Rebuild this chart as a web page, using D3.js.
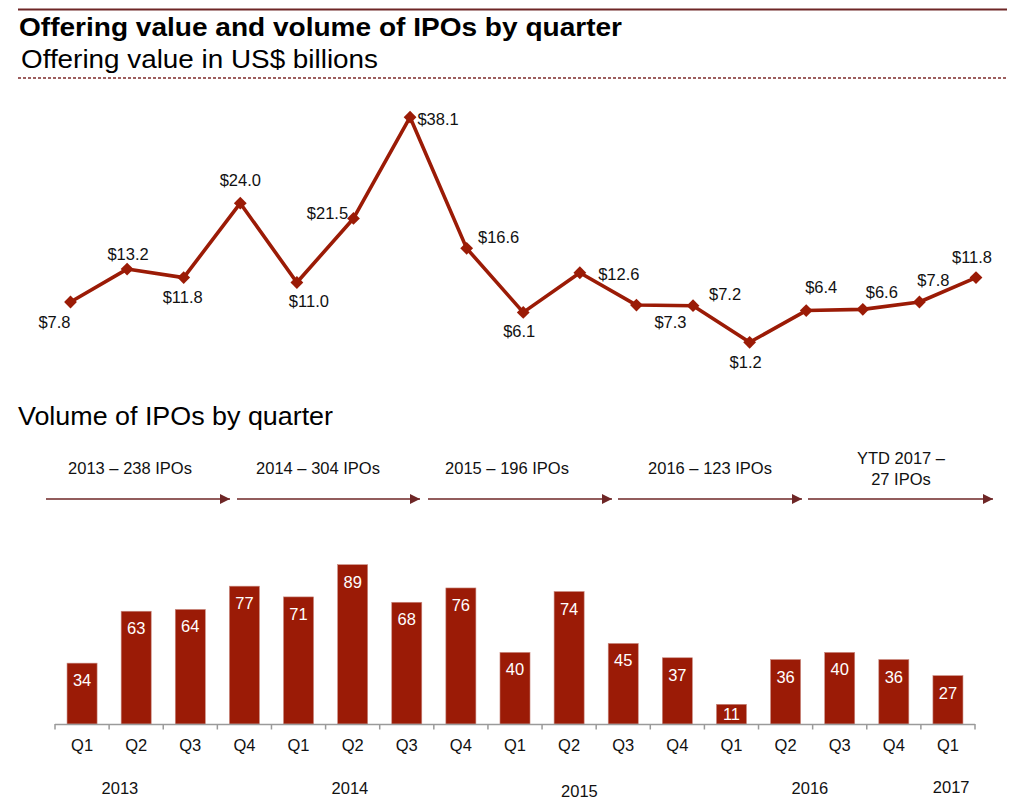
<!DOCTYPE html>
<html>
<head>
<meta charset="utf-8">
<script src="https://cdn.jsdelivr.net/npm/d3@7"></script>
<style>
  html, body { margin: 0; padding: 0; background: #fff; }
  svg { display: block; font-family: "Liberation Sans", Arial, sans-serif; }
</style>
</head>
<body>
<svg id="chart" width="1024" height="812"></svg>
<script>
// ---------- data ----------
const quarters = ["Q1","Q2","Q3","Q4","Q1","Q2","Q3","Q4","Q1","Q2","Q3","Q4","Q1","Q2","Q3","Q4","Q1"];
const offeringValue = [7.8, 13.2, 11.8, 24.0, 11.0, 21.5, 38.1, 16.6, 6.1, 12.6, 7.3, 7.2, 1.2, 6.4, 6.6, 7.8, 11.8];
const ipoVolume = [34, 63, 64, 77, 71, 89, 68, 76, 40, 74, 45, 37, 11, 36, 40, 36, 27];
const years = ["2013", "2014", "2015", "2016", "2017"];
const periodLabels = [["2013 \u2013 238 IPOs"], ["2014 \u2013 304 IPOs"], ["2015 \u2013 196 IPOs"], ["2016 \u2013 123 IPOs"], ["YTD 2017 \u2013", "27 IPOs"]];

// ---------- layout (not data) ----------
const valueLabelOffsets = [[-16,20],[1,-15],[-1,19],[0,-23],[12,18],[-26,-5],[28,2],[32,-11],[-4,19],[39,1],[34,17],[32,-12],[-4,20],[15,-24],[19,-17],[14,-22],[-4,-21]];
const yearLabelBand = [1.2, 5.45, 9.69, 13.95, 16.56];   // in band units along the bar axis
const yearLabelY = [788, 788, 791, 788, 787];
const arrowSpans = [[46,230],[237,420],[428,612],[618,802],[808,993]];
const periodLabelX = [130, 318, 507, 710, 901];

const RED = "#9b1b06";
const MAROON = "#6e2626";

const svg = d3.select("#chart");

// ---------- header ----------
svg.append("line").attr("x1", 18).attr("x2", 1007).attr("y1", 9.5).attr("y2", 9.5)
  .attr("stroke", MAROON).attr("stroke-width", 1.8);
svg.append("text").attr("x", 19).attr("y", 36).attr("font-size", 25.5).attr("font-weight", "bold")
  .attr("fill", "#000").attr("textLength", 603).attr("lengthAdjust", "spacingAndGlyphs")
  .text("Offering value and volume of IPOs by quarter");
svg.append("text").attr("x", 21).attr("y", 68).attr("font-size", 26).attr("fill", "#000")
  .attr("textLength", 357).attr("lengthAdjust", "spacingAndGlyphs")
  .text("Offering value in US$ billions");
svg.append("line").attr("x1", 18).attr("x2", 1007).attr("y1", 78).attr("y2", 78)
  .attr("stroke", "#7e2a2a").attr("stroke-width", 1.4).attr("stroke-dasharray", "3,2");

// ---------- line chart ----------
const xLine = d3.scalePoint().domain(d3.range(offeringValue.length)).range([70.5, 976]);
const yLine = d3.scaleLinear().domain([0, 40]).range([349.6, 105.6]);

const line = d3.line().x((d, i) => xLine(i)).y(d => yLine(d));
svg.append("path").datum(offeringValue).attr("d", line)
  .attr("fill", "none").attr("stroke", RED).attr("stroke-width", 3.6).attr("stroke-linejoin", "round");

svg.append("g").selectAll("path").data(offeringValue).join("path")
  .attr("d", d3.symbol(d3.symbolSquare, 82))
  .attr("transform", (d, i) => `translate(${xLine(i)},${yLine(d)}) rotate(45)`)
  .attr("fill", RED);

svg.append("g").selectAll("text").data(offeringValue).join("text")
  .attr("x", (d, i) => xLine(i) + valueLabelOffsets[i][0])
  .attr("y", (d, i) => yLine(d) + valueLabelOffsets[i][1])
  .attr("text-anchor", "middle").attr("dominant-baseline", "central")
  .attr("font-size", 16.5).attr("fill", "#111")
  .text(d => "$" + d.toFixed(1));

// ---------- volume heading ----------
svg.append("text").attr("x", 18).attr("y", 425).attr("font-size", 25.5).attr("fill", "#000")
  .attr("textLength", 315).attr("lengthAdjust", "spacingAndGlyphs")
  .text("Volume of IPOs by quarter");

// ---------- period arrows ----------
const defs = svg.append("defs");
defs.append("marker").attr("id", "arrowHead").attr("viewBox", "0 0 10 10")
  .attr("refX", 10).attr("refY", 5).attr("markerWidth", 10).attr("markerHeight", 10)
  .attr("markerUnits", "userSpaceOnUse").attr("orient", "auto")
  .append("path").attr("d", "M0,0 L10,5 L0,10 Z").attr("fill", MAROON);

const arrows = svg.append("g");
arrows.selectAll("line").data(arrowSpans).join("line")
  .attr("x1", d => d[0]).attr("x2", d => d[1]).attr("y1", 499).attr("y2", 499)
  .attr("stroke", MAROON).attr("stroke-width", 1.5).attr("marker-end", "url(#arrowHead)");

arrows.selectAll("text").data(periodLabels).join("text")
  .attr("x", (d, i) => periodLabelX[i])
  .attr("text-anchor", "middle").attr("font-size", 16.5).attr("fill", "#111")
  .each(function(d) {
    const t = d3.select(this);
    const startY = d.length > 1 ? 458 : 468;
    d.forEach((s, k) => {
      t.append("tspan").attr("x", t.attr("x")).attr("y", startY + k * 21)
        .attr("dominant-baseline", "central").text(s);
    });
  });

// ---------- bar chart ----------
const xBar = d3.scaleBand().domain(d3.range(ipoVolume.length)).range([55, 975])
  .paddingInner(0.445).paddingOuter(0.2225);
const yBar = d3.scaleLinear().domain([0, 100]).range([724, 545]);

svg.append("g").selectAll("rect").data(ipoVolume).join("rect")
  .attr("x", (d, i) => xBar(i)).attr("width", xBar.bandwidth())
  .attr("y", d => yBar(d)).attr("height", d => yBar(0) - yBar(d))
  .attr("fill", RED).attr("stroke", "#c98a80").attr("stroke-width", 0.6);

svg.append("g").selectAll("text").data(ipoVolume).join("text")
  .attr("x", (d, i) => xBar(i) + xBar.bandwidth() / 2)
  .attr("y", d => Math.min(yBar(d) + 17, (yBar(d) + yBar(0)) / 2))
  .attr("text-anchor", "middle").attr("dominant-baseline", "central")
  .attr("font-size", 16.5).attr("fill", "#fff")
  .text(d => d);

// axis line with ticks at band boundaries
const step = xBar.step();
const boundaries = d3.range(ipoVolume.length + 1).map(i => 55 + i * step);
const axisG = svg.append("g");
axisG.append("line").attr("x1", 55).attr("x2", 975).attr("y1", 724.5).attr("y2", 724.5)
  .attr("stroke", "#9a9a9a").attr("stroke-width", 1.5);
axisG.selectAll("line.tick").data(boundaries).join("line").attr("class", "tick")
  .attr("x1", d => d).attr("x2", d => d).attr("y1", 724).attr("y2", 729.5)
  .attr("stroke", "#9a9a9a").attr("stroke-width", 1.5);

axisG.selectAll("text.q").data(quarters).join("text").attr("class", "q")
  .attr("x", (d, i) => xBar(i) + xBar.bandwidth() / 2).attr("y", 745)
  .attr("text-anchor", "middle").attr("dominant-baseline", "central")
  .attr("font-size", 16.5).attr("fill", "#111").text(d => d);

axisG.selectAll("text.yr").data(years).join("text").attr("class", "yr")
  .attr("x", (d, i) => 55 + yearLabelBand[i] * step).attr("y", (d, i) => yearLabelY[i])
  .attr("text-anchor", "middle").attr("dominant-baseline", "central")
  .attr("font-size", 16.5).attr("fill", "#111").text(d => d);
</script>
</body>
</html>
